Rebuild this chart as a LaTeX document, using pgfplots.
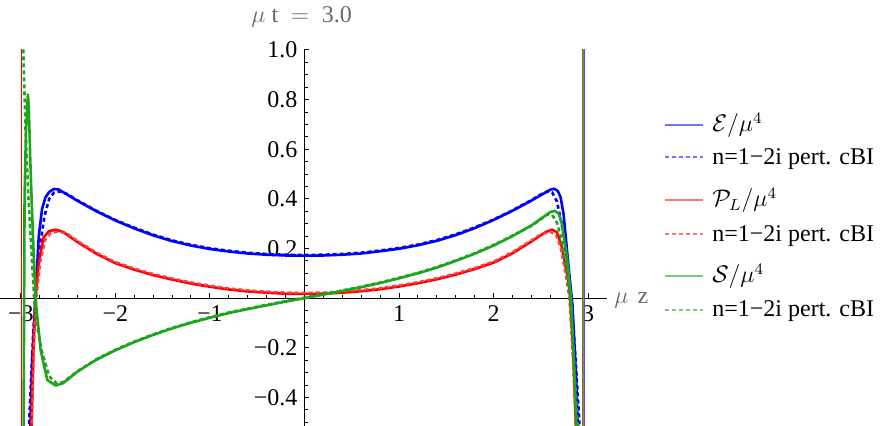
\documentclass[border=0pt]{standalone}
\usepackage{fontspec}
\setmainfont{Liberation Serif}
\usepackage{pgfplots}
\usepackage{pgfplotstable}
\pgfplotsset{compat=1.18}
\definecolor{mgreen}{RGB}{30,165,30}
\definecolor{lblgray}{RGB}{105,105,105}

% energy density, solid and perturbative (dashed)
\pgfplotstableread{
x y
-2.905 -0.6
-2.88 -0.26
-2.845 0.0
-2.81 0.25
-2.775 0.36
-2.74 0.405
-2.70 0.428
-2.65 0.44
-2.60 0.438
-2.50 0.415
-2.40 0.392
-2.20 0.350
-2.00 0.313
-1.80 0.281
-1.60 0.253
-1.40 0.230
-1.20 0.212
-1.00 0.198
-0.80 0.188
-0.60 0.180
-0.40 0.175
-0.20 0.172
0.00 0.171
0.20 0.172
0.40 0.175
0.60 0.180
0.80 0.189
1.00 0.199
1.20 0.213
1.40 0.231
1.60 0.254
1.80 0.282
2.00 0.315
2.20 0.352
2.40 0.393
2.50 0.415
2.60 0.437
2.64 0.441
2.68 0.432
2.71 0.405
2.74 0.34
2.77 0.22
2.80 0.10
2.835 -0.03
2.87 -0.3
2.90 -0.58
}\Esol
\pgfplotstableread{
x y
-2.925 -0.62
-2.90 -0.40
-2.87 -0.15
-2.84 0.03
-2.80 0.20
-2.75 0.33
-2.70 0.40
-2.65 0.425
-2.58 0.43
-2.50 0.418
-2.40 0.394
-2.20 0.352
-2.00 0.315
-1.80 0.284
-1.60 0.256
-1.40 0.233
-1.20 0.215
-1.00 0.201
-0.80 0.191
-0.60 0.183
-0.40 0.178
-0.20 0.175
0.00 0.174
0.20 0.175
0.40 0.178
0.60 0.183
0.80 0.192
1.00 0.202
1.20 0.216
1.40 0.234
1.60 0.257
1.80 0.285
2.00 0.317
2.20 0.354
2.40 0.395
2.50 0.418
2.57 0.43
2.62 0.426
2.67 0.39
2.72 0.30
2.77 0.17
2.82 0.02
2.86 -0.20
2.90 -0.45
2.925 -0.62
}\Epert

% longitudinal pressure
\pgfplotstableread{
x y
-2.89 -0.55
-2.865 -0.2
-2.845 0.0
-2.81 0.14
-2.76 0.245
-2.70 0.27
-2.63 0.276
-2.55 0.266
-2.40 0.226
-2.20 0.179
-2.00 0.141
-1.80 0.115
-1.60 0.093
-1.40 0.075
-1.20 0.059
-1.00 0.046
-0.80 0.035
-0.60 0.027
-0.40 0.022
-0.20 0.018
0.00 0.017
0.20 0.018
0.40 0.022
0.60 0.028
0.80 0.036
1.00 0.047
1.20 0.060
1.40 0.076
1.60 0.095
1.80 0.117
2.00 0.143
2.20 0.181
2.40 0.228
2.55 0.266
2.62 0.276
2.67 0.266
2.72 0.21
2.76 0.13
2.79 0.075
2.81 0.0
2.84 -0.2
2.875 -0.56
}\Psol
\pgfplotstableread{
x y
-2.885 -0.56
-2.86 -0.2
-2.835 0.0
-2.79 0.15
-2.74 0.235
-2.68 0.262
-2.60 0.268
-2.50 0.258
-2.40 0.231
-2.20 0.184
-2.00 0.146
-1.80 0.120
-1.60 0.098
-1.40 0.080
-1.20 0.064
-1.00 0.051
-0.80 0.040
-0.60 0.032
-0.40 0.027
-0.20 0.023
0.00 0.022
0.20 0.023
0.40 0.027
0.60 0.033
0.80 0.041
1.00 0.052
1.20 0.065
1.40 0.081
1.60 0.100
1.80 0.122
2.00 0.148
2.20 0.186
2.40 0.233
2.50 0.258
2.60 0.266
2.66 0.255
2.71 0.20
2.76 0.10
2.80 0.0
2.84 -0.25
2.875 -0.58
}\Ppert

% shear component
\pgfplotstableread{
x y
-2.978 -1.2
-2.96 0.41
-2.945 0.68
-2.925 0.82
-2.915 0.77
-2.90 0.56
-2.88 0.34
-2.86 0.14
-2.84 -0.02
-2.79 -0.21
-2.72 -0.33
-2.63 -0.352
-2.55 -0.342
-2.40 -0.296
-2.20 -0.248
-2.00 -0.210
-1.80 -0.177
-1.60 -0.148
-1.40 -0.122
-1.20 -0.099
-1.00 -0.079
-0.80 -0.060
-0.60 -0.044
-0.40 -0.029
-0.20 -0.014
0.00 0.0
0.20 0.014
0.40 0.029
0.60 0.044
0.80 0.061
1.00 0.080
1.20 0.100
1.40 0.123
1.60 0.150
1.80 0.179
2.00 0.212
2.20 0.250
2.40 0.293
2.50 0.320
2.60 0.347
2.65 0.352
2.69 0.34
2.72 0.305
2.775 0.17
2.82 0.0
2.85 -0.25
2.88 -0.56
}\Ssol
\pgfplotstableread{
x y
-2.985 1.2
-2.97 0.946
-2.95 0.68
-2.92 0.41
-2.88 0.14
-2.85 -0.06
-2.78 -0.21
-2.70 -0.315
-2.62 -0.343
-2.55 -0.338
-2.40 -0.294
-2.20 -0.246
-2.00 -0.208
-1.80 -0.175
-1.60 -0.146
-1.40 -0.120
-1.20 -0.097
-1.00 -0.077
-0.80 -0.058
-0.60 -0.042
-0.40 -0.027
-0.20 -0.012
0.00 0.002
0.20 0.016
0.40 0.031
0.60 0.046
0.80 0.063
1.00 0.082
1.20 0.102
1.40 0.125
1.60 0.152
1.80 0.181
2.00 0.214
2.20 0.252
2.40 0.291
2.50 0.318
2.57 0.338
2.62 0.335
2.67 0.305
2.72 0.235
2.77 0.12
2.81 0.0
2.85 -0.25
2.90 -0.58
}\Spert

\begin{document}
\begin{tikzpicture}[font=\fontsize{12}{14}\selectfont]
\begin{axis}[
  at={(0pt,0pt)}, anchor=south west,
  scale only axis, width=303.5pt, height=188pt,
  xmin=-3.22, xmax=3.2, ymin=-0.515, ymax=1.0,
  axis lines=middle,
  axis line style={-, black, line width=0.5pt},
  clip=true,
  xtick={-3,-2,-1,0,1,2,3},
  xticklabels={−3,−2,−1,,1,2,3},
  ytick={-0.4,-0.2,0,0.2,0.4,0.6,0.8,1.0},
  yticklabels={−0.4,−0.2,,0.2,0.4,0.6,0.8,1.0},
  minor x tick num=4,
  minor ytick={-0.5,-0.45,-0.35,-0.3,-0.25,-0.15,-0.1,-0.05,0.05,0.1,0.15,0.25,0.3,0.35,0.45,0.5,0.55,0.65,0.7,0.75,0.85,0.9,0.95},
  hide obscured x ticks=false, hide obscured y ticks=false,
  tick align=inside,
  major tick length=2.4pt, minor tick length=1.6pt,
  tick style={black, line width=0.5pt},
  ticklabel style={font=\fontsize{12}{14}\selectfont},
  line join=round,
]
\addplot[blue, line width=1.3pt, forget plot] table {\Esol};
% thin spikes at the light-cone edges
\addplot[blue, line width=0.5pt, forget plot] coordinates {(-2.991,6) (-2.991,-6)};
\addplot[blue!70, line width=0.5pt, forget plot] coordinates {(2.958,-6) (2.958,6)};
\addplot[blue, line width=1.3pt, dash pattern=on 2pt off 1.5pt, forget plot] table {\Epert};
\addplot[red, line width=1.3pt, forget plot] table {\Psol};
\addplot[red, line width=0.5pt, forget plot] coordinates {(-2.989,6) (-2.989,-6)};
\addplot[red!70, line width=0.5pt, forget plot] coordinates {(2.951,-6) (2.951,6)};
\addplot[red!75!white, line width=1.1pt, dash pattern=on 2pt off 1.5pt, forget plot] table {\Ppert};
\addplot[mgreen, line width=1.3pt, forget plot] table {\Ssol};
\addplot[mgreen, line width=0.5pt, forget plot] coordinates {(-2.978,-6) (-2.978,-1.2)};
\addplot[mgreen, line width=0.6pt, forget plot] coordinates {(2.943,-6) (2.943,6)};
\addplot[mgreen, line width=1.3pt, dash pattern=on 2pt off 1.5pt, forget plot] table {\Spert};
\end{axis}

% axis labels in Mathematica style
\node[lblgray] at (150.8pt,204.5pt) {$\mu$ t ${}={}$ 3.0};
\node[lblgray, anchor=west, inner sep=0pt] at (307pt,63pt) {$\mu$\hspace{4.5pt}z};

% legend
\draw[blue!55, line width=0.7pt] (332.5pt,150.5pt) -- ++(19pt,0pt);
\node[anchor=base west, inner sep=0pt] at (356pt,147pt) {$\mathcal{E}/\mu^4$};
\draw[blue!55, line width=0.7pt, dash pattern=on 2pt off 1.5pt] (332.5pt,134.4pt) -- ++(19pt,0pt);
\node[anchor=base west, inner sep=0pt] at (356pt,130.9pt) {n=1−2i pert. cBI};
\draw[red!55, line width=0.7pt] (332.5pt,113pt) -- ++(19pt,0pt);
\node[anchor=base west, inner sep=0pt] at (356pt,109.5pt) {$\mathcal{P}_L/\mu^4$};
\draw[red!55, line width=0.7pt, dash pattern=on 2pt off 1.5pt] (332.5pt,95.9pt) -- ++(19pt,0pt);
\node[anchor=base west, inner sep=0pt] at (356pt,92.4pt) {n=1−2i pert. cBI};
\draw[mgreen!60, line width=0.7pt] (332.5pt,75pt) -- ++(19pt,0pt);
\node[anchor=base west, inner sep=0pt] at (356pt,71.5pt) {$\mathcal{S}/\mu^4$};
\draw[mgreen!60, line width=0.7pt, dash pattern=on 2pt off 1.5pt] (332.5pt,58pt) -- ++(19pt,0pt);
\node[anchor=base west, inner sep=0pt] at (356pt,54.5pt) {n=1−2i pert. cBI};

\pgfresetboundingbox
\useasboundingbox (0pt,0pt) rectangle (441.5pt,213pt);
\end{tikzpicture}
\end{document}
